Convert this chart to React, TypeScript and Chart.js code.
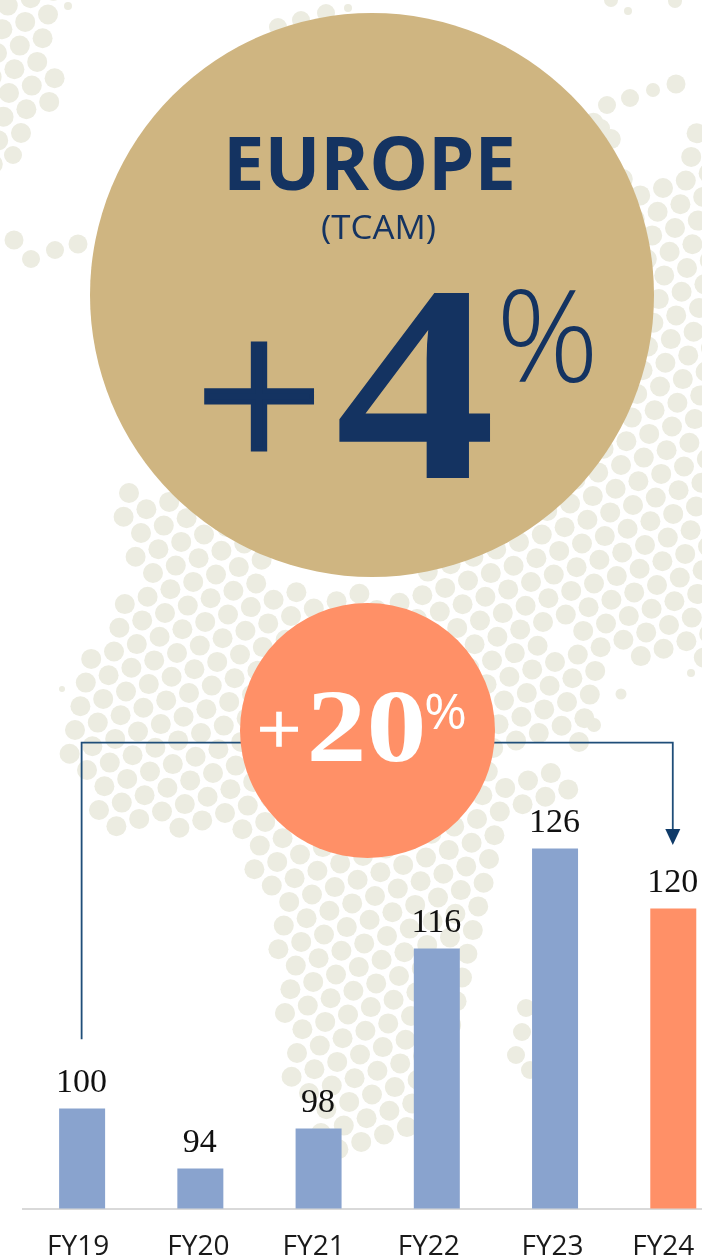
import React, { useEffect, useRef } from "react";
import { Chart, registerables } from "chart.js";

Chart.register(...registerables);

// Chart data
const categories = ["FY19", "FY20", "FY21", "FY22", "FY23", "FY24"];
const values = [100, 94, 98, 116, 126, 120];
const barColors = ["#89A3CE", "#89A3CE", "#89A3CE", "#89A3CE", "#89A3CE", "#FF9067"];
const tickNudges = [-4, -2, -5, -8, -2.5, -10];

// Growth bracket, in category index / axis value units
const bracketFrom = 0;
const bracketTo = 5;
const bracketTop = 136.58;
const bracketStartValue = 106.92;
const bracketArrowTip = 126.35;

// Decorative dotted map behind the chart
const DOT = "#ECECE1";
const mapOutline: number[][] = [
  [118, 482], [180, 492], [270, 555], [285, 590], [360, 588], [415, 595], [425, 570], [500, 480],
  [590, 118], [622, 140], [628, 178], [665, 188], [695, 130], [720, 130], [720, 662], [640, 662],
  [600, 648], [570, 625], [552, 632], [560, 642], [600, 652], [612, 682], [600, 738], [520, 755],
  [505, 768], [572, 768], [572, 790], [500, 832], [497, 870], [485, 900], [485, 960], [470, 1018],
  [430, 1070], [410, 1135], [345, 1165], [322, 1135], [292, 1085], [280, 1010], [275, 925],
  [250, 875], [240, 832], [110, 835], [85, 780], [55, 755], [70, 700], [85, 650], [115, 615],
  [118, 598], [145, 575], [125, 550],
];
const cornerOutline: number[][] = [[-20, -20], [62, -20], [60, 40], [56, 105], [30, 125], [8, 170], [-20, 170]];
const looseDots: number[][] = [
  [13, 155, 9], [14, 240, 9.5], [31, 259, 9], [55, 250, 9], [78, 244, 9.5],
  [68, 6, 4], [278, 27, 9], [301, 20, 9], [326, 13, 9], [348, 8, 4], [628, 11, 4], [611, 0, 7], [675, 1, 7],
  [607, 105, 9], [630, 98, 9], [653, 90, 7], [676, 84, 9.5], [601, 128, 9],
  [526, 1008, 9], [522, 1032, 9], [516, 1055, 9], [530, 1070, 9], [62, 689, 3], [282, 927, 5], [621, 694, 5.5],
  [594, 725, 7], [691, 673, 4],
];

function inside(px: number, py: number, poly: number[][]) {
  let hit = false;
  for (let i = 0, j = poly.length - 1; i < poly.length; j = i++) {
    const [xi, yi] = poly[i];
    const [xj, yj] = poly[j];
    if (yi > py !== yj > py && px < ((xj - xi) * (py - yi)) / (yj - yi) + xi) hit = !hit;
  }
  return hit;
}

function buildDots() {
  const out: number[][] = [...looseDots];
  for (let a = -60; a < 60; a++) {
    for (let b = -60; b < 60; b++) {
      const x = 129 - 5.4 * a + 22.8 * b;
      const y = 493 + 23.7 * a - 7.4 * b;
      if (inside(x, y, mapOutline) || inside(x, y, cornerOutline)) out.push([x, y, 10]);
    }
  }
  return out;
}
const dots = buildDots();

const NAVY = "#143361";
const LINE = "#1F4E79";

export default function App() {
  const ref = useRef<HTMLCanvasElement>(null);

  useEffect(() => {
    document.body.style.margin = "0";
    const overlay = {
      id: "overlay",
      beforeDraw(chart: any) {
        const items = chart.scales.x.getLabelItems();
        items.forEach((it: any, i: number) => {
          if (it.$nudged) return;
          it.$nudged = true;
          it.options.translation = [it.options.translation[0] + tickNudges[i], it.options.translation[1]];
        });
      },
      afterDatasetsDraw(chart: any) {
        const { ctx, scales } = chart;
        const { x, y } = scales;
        ctx.save();
        // value labels
        ctx.fillStyle = "#111111";
        ctx.font = "34px 'Liberation Serif'";
        ctx.textAlign = "center";
        ctx.textBaseline = "alphabetic";
        values.forEach((v, i) => {
          ctx.fillText(String(v), x.getPixelForValue(i) - 0.5, y.getPixelForValue(v) - 17);
        });
        // bracket
        const xa = x.getPixelForValue(bracketFrom) - 0.5;
        const xb = x.getPixelForValue(bracketTo) - 0.5;
        const top = y.getPixelForValue(bracketTop);
        const tip = y.getPixelForValue(bracketArrowTip);
        ctx.strokeStyle = LINE;
        ctx.lineWidth = 1.8;
        ctx.beginPath();
        ctx.moveTo(xa, y.getPixelForValue(bracketStartValue));
        ctx.lineTo(xa, top);
        ctx.lineTo(xb, top);
        ctx.lineTo(xb, tip - 12);
        ctx.stroke();
        ctx.fillStyle = "#0F3A68";
        ctx.beginPath();
        ctx.moveTo(xb - 7.5, tip - 16);
        ctx.lineTo(xb + 7.5, tip - 16);
        ctx.lineTo(xb, tip);
        ctx.closePath();
        ctx.fill();
        ctx.restore();
      },
    };
    const chart = new Chart(ref.current!, {
      type: "bar",
      data: {
        labels: categories,
        datasets: [
          {
            data: values,
            backgroundColor: barColors,
            borderWidth: 0,
            categoryPercentage: 1,
            barPercentage: 0.389,
          },
        ],
      },
      options: {
        animation: false,
        responsive: false,
        devicePixelRatio: 1,
        layout: { padding: { left: 23, right: 27.6, top: 8.5, bottom: 0 } },
        plugins: { legend: { display: false }, tooltip: { enabled: false } },
        scales: {
          x: {
            grid: { display: false, drawTicks: false },
            border: { display: true, color: "#D9D9D9", width: 2 },
            ticks: {
              color: "#1A1A1A",
              font: { family: "'Open Sans'", size: 28 },
              padding: 22,
              maxRotation: 0,
              autoSkip: false,
            },
            afterFit: (s: any) => {
              s.height = 50.5;
            },
          },
          y: { display: false, min: 90, max: 210 },
        },
      },
      plugins: [overlay],
    } as any);
    return () => chart.destroy();
  }, []);

  const layer: React.CSSProperties = { position: "absolute", left: 0, top: 0 };
  return (
    <div style={{ position: "absolute", left: 0, top: 0, width: 702, height: 1259, overflow: "hidden", background: "#fff" }}>
      <svg width={702} height={1259} style={layer}>
        {dots.map(([cx, cy, r], i) => (
          <circle key={i} cx={cx} cy={cy} r={r} fill={DOT} />
        ))}
      </svg>
      <canvas ref={ref} width={760} height={1259} style={layer} />
      <svg width={702} height={1259} style={layer}>
        <circle cx={372} cy={295} r={282} fill="#CFB581" />
        <text x={223} y={190} textLength={293} lengthAdjust="spacingAndGlyphs" fill={NAVY} fontFamily="'Open Sans'" fontWeight={700} fontSize={74}>EUROPE</text>
        <text x={321} y={239} textLength={115} lengthAdjust="spacingAndGlyphs" fill={NAVY} fontFamily="'Open Sans'" fontSize={32}>(TCAM)</text>
        <text x={195.6} y={471.4} textLength={127} lengthAdjust="spacingAndGlyphs" fill={NAVY} stroke={NAVY} strokeWidth={5} fontFamily="'Liberation Serif'" fontSize={225}>+</text>
        <text x={335} y={478} textLength={161} lengthAdjust="spacingAndGlyphs" fill={NAVY} fontFamily="'Liberation Serif'" fontWeight={700} fontSize={281}>4</text>
        <text x={496} y={382} textLength={103} lengthAdjust="spacingAndGlyphs" fill={NAVY} fontFamily="'Open Sans'" fontWeight={300} fontSize={127}>%</text>
        <circle cx={367.5} cy={730.5} r={127.5} fill="#FF9067" />
        <text x={257} y={752.5} textLength={44} lengthAdjust="spacingAndGlyphs" fill="#fff" stroke="#fff" strokeWidth={1.5} fontFamily="'Liberation Serif'" fontSize={72}>+</text>
        <text x={306.5} y={761} textLength={120} lengthAdjust="spacingAndGlyphs" fill="#fff" fontFamily="'Liberation Serif'" fontWeight={700} fontSize={103}>20</text>
        <text x={424} y={729} textLength={43} lengthAdjust="spacingAndGlyphs" fill="#fff" fontFamily="'Open Sans'" fontWeight={400} fontSize={50}>%</text>
      </svg>
    </div>
  );
}
